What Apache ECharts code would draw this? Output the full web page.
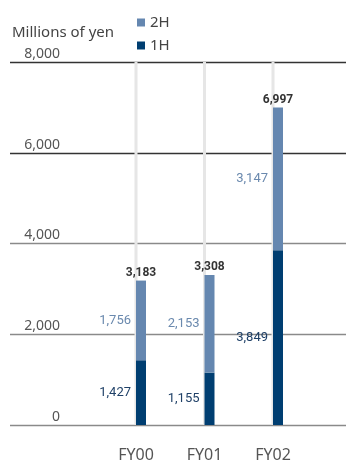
<!DOCTYPE html>
<html>
<head>
<meta charset="utf-8">
<script src="https://cdn.jsdelivr.net/npm/echarts@6/dist/echarts.min.js"></script>
<style>
  html, body { margin: 0; padding: 0; background: #fff; }
  #main { width: 346px; height: 463px; }
</style>
</head>
<body>
<div id="main"></div>
<script>
// data
var years = ['FY00', 'FY01', 'FY02']
var firstHalf = [1427, 1155, 3849]   // 1H
var secondHalf = [1756, 2153, 3147]  // 2H
var totals = [3183, 3308, 6997]
var yMax = 8000
var yStep = 2000

var fmt = function (v) { return Number(v).toLocaleString('en-US') }

var chart = echarts.init(document.getElementById('main'))
chart.setOption({
  backgroundColor: '#fff',
  animation: false,
  textStyle: { fontFamily: 'Noto Sans' },
  title: {
    text: 'Millions of yen',
    left: 7,
    top: 20,
    textStyle: { fontSize: 15, fontWeight: 'normal', color: '#444', fontFamily: 'Noto Sans' }
  },
  legend: {
    orient: 'vertical',
    left: 132,
    top: 10,
    itemWidth: 8,
    itemHeight: 8,
    itemGap: 8,
    icon: 'rect',
    textStyle: { fontSize: 15, color: '#444' },
    data: ['2H', '1H']
  },
  grid: [
    // horizontal lines + y labels
    { left: 10, right: 0, top: 62, bottom: 38 },
    // category labels + grey guide lines
    { left: 101.75, right: 38.75, top: 62, bottom: 38 },
    // bars
    { left: 106.75, right: 33.75, top: 62, bottom: 38 }
  ],
  xAxis: [
    { gridIndex: 0, type: 'value', show: false },
    {
      gridIndex: 1, type: 'category', data: years,
      axisLine: { show: false }, axisTick: { show: false },
      axisLabel: { fontSize: 16, color: '#555', margin: 22 }
    },
    { gridIndex: 2, type: 'category', data: years, show: false }
  ],
  yAxis: [
    {
      gridIndex: 0, type: 'value', min: 0, max: yMax, interval: yStep,
      axisLine: { show: false }, axisTick: { show: false },
      axisLabel: {
        inside: true, margin: 50, align: 'right', verticalAlign: 'bottom',
        padding: [0, 0, 1, 0],
        fontSize: 14, color: '#555',
        formatter: function (v) { return fmt(v) }
      },
      splitLine: { lineStyle: { color: ['#8a8a8a', '#8a8a8a', '#8a8a8a', '#333', '#333'], width: 1.3 } }
    },
    { gridIndex: 1, type: 'value', min: 0, max: yMax, show: false, splitLine: { show: false } },
    { gridIndex: 2, type: 'value', min: 0, max: yMax, show: false, splitLine: { show: false } }
  ],
  series: [
    {
      name: 'guide', type: 'bar', xAxisIndex: 1, yAxisIndex: 1,
      data: years.map(function () { return yMax }),
      barWidth: 3, silent: true, z: 1,
      itemStyle: { color: '#e6e6e6' }
    },
    {
      name: '1H', type: 'bar', stack: 'fy', xAxisIndex: 2, yAxisIndex: 2,
      data: firstHalf, barWidth: 10, z: 3,
      itemStyle: { color: '#003e71' },
      label: {
        show: true, position: 'left', distance: 5,
        fontSize: 13, color: '#1f4067', fontFamily: 'Roboto',
        formatter: function (p) { return fmt(p.value) }
      }
    },
    {
      name: '2H', type: 'bar', stack: 'fy', xAxisIndex: 2, yAxisIndex: 2,
      data: secondHalf, barWidth: 10, z: 3,
      itemStyle: { color: '#6587b0' },
      label: {
        show: true, position: 'left', distance: 5,
        fontSize: 13, color: '#6a89ae', fontFamily: 'Roboto',
        formatter: function (p) { return fmt(p.value) }
      }
    },
    {
      name: 'total', type: 'bar', stack: 'fy', xAxisIndex: 2, yAxisIndex: 2,
      data: years.map(function () { return 0 }), barWidth: 10, z: 3, silent: true,
      label: {
        show: true, position: 'top', distance: 2,
        fontSize: 12, fontWeight: 'bold', color: '#333', fontFamily: 'Roboto',
        formatter: function (p) { return fmt(totals[p.dataIndex]) }
      }
    }
  ]
})
</script>
</body>
</html>
